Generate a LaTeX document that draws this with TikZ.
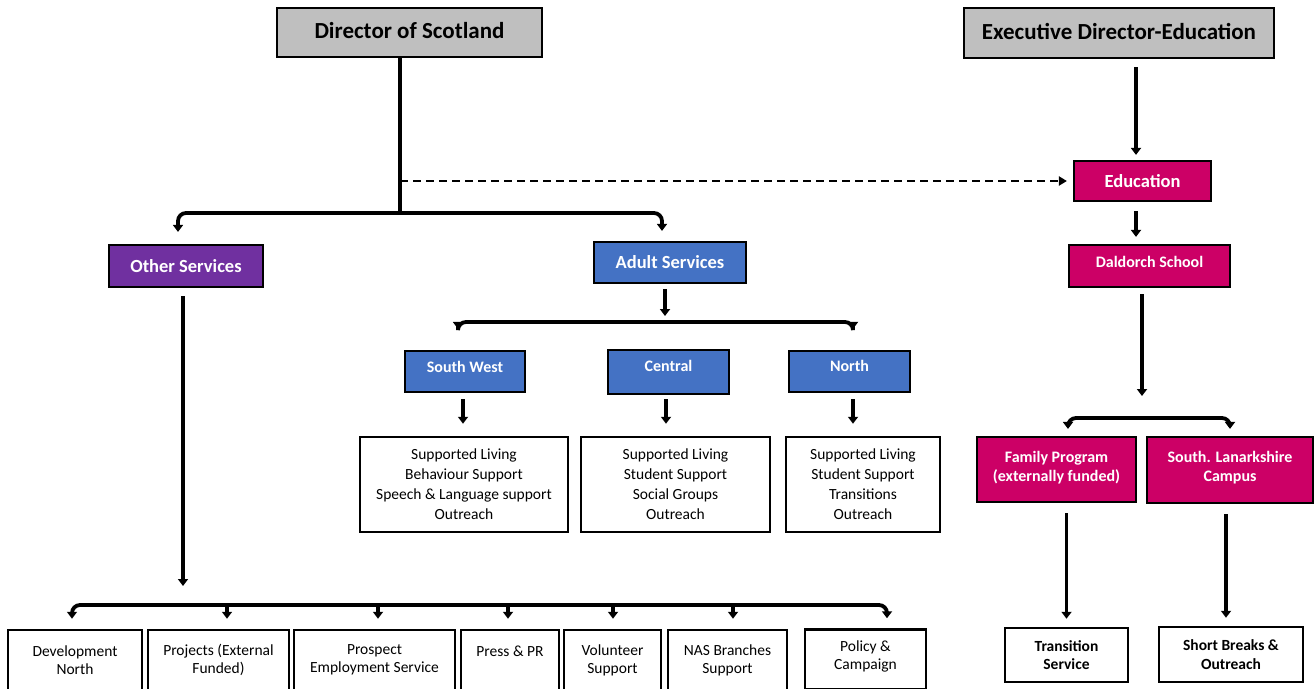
\documentclass[tikz,border=0pt]{standalone}
\usepackage{fontspec}
\setmainfont{Carlito}
\usetikzlibrary{arrows.meta}
\definecolor{hgray}{HTML}{BFBFBF}
\definecolor{npink}{HTML}{CC0066}
\definecolor{npurple}{HTML}{7030A0}
\definecolor{nblue}{HTML}{4472C4}
\tikzset{
  hdr/.style={draw=black, line width=2.6pt, fill=hgray, inner sep=0pt, align=center,
    font=\fontsize{23}{26}\selectfont\bfseries},
  colbox/.style={draw=black, line width=2.2pt, inner sep=0pt, align=center, text=white,
    font=\fontsize{18.5}{22}\selectfont\bfseries},
  smallcol/.style={colbox, font=\fontsize{16}{19}\selectfont\bfseries},
  lst/.style={draw=black, line width=2.5pt, fill=white, inner sep=0pt, align=center,
    font=\fontsize{15.5}{20}\selectfont},
  bot/.style={lst, font=\fontsize{15.5}{18}\selectfont},
  lstb/.style={lst, font=\fontsize{15.5}{18.5}\selectfont\bfseries},
  tip/.style={-{Triangle[width=10pt,length=7pt]}},
  arr/.style={line width=3.5pt, tip},
  ln/.style={line width=3.8pt},
  brk/.style={line width=3.8pt, rounded corners=8pt,
    {Triangle[width=10pt,length=7pt]}-{Triangle[width=10pt,length=7pt]}},
  dsh/.style={line width=2pt, dash pattern=on 8pt off 5pt,
    -{Triangle[width=9pt,length=8pt]}},
}
\begin{document}
\begin{tikzpicture}[x=1pt,y=-1pt]
\useasboundingbox (0,0) rectangle (1316,688);
\clip (0,0) rectangle (1316,688);

% headers
\node[hdr, minimum width=265pt, minimum height=49pt] (dir) at (409.5,32.5) {Director of Scotland\\[-22pt]\mbox{}};
\node[hdr, minimum width=310pt, minimum height=50pt] (exec) at (1119,33) {Executive Director-Education\\[-22pt]\mbox{}};

% education branch
\node[colbox, fill=npink, minimum width=137pt, minimum height=40pt] (edu) at (1142.5,181) {Education};
\node[smallcol, fill=npink, minimum width=161pt, minimum height=42pt] (dal) at (1149.5,266) {Daldorch School\\[-10pt]\mbox{}};
\node[smallcol, fill=npink, minimum width=159pt, minimum height=65pt] (fam) at (1056.5,469.5) {Family Program\\(externally funded)\\[-12pt]\mbox{}};
\node[smallcol, fill=npink, minimum width=166pt, minimum height=66pt] (slc) at (1230,470) {South. Lanarkshire\\Campus\\[-12pt]\mbox{}};
\node[lstb, minimum width=123pt, minimum height=54pt] (trs) at (1066.5,655) {Transition\\Service};
\node[lstb, minimum width=144pt, minimum height=55pt] (sbk) at (1231,654.5) {Short Breaks \&\\Outreach};

% other / adult
\node[colbox, fill=npurple, minimum width=154pt, minimum height=42pt] (oth) at (186,266) {Other Services};
\node[colbox, fill=nblue, minimum width=152pt, minimum height=41pt] (adu) at (670,262.5) {Adult Services};

% regions
\node[smallcol, fill=nblue, minimum width=120pt, minimum height=41pt] (sw) at (465,371.5) {South West\\[-10pt]\mbox{}};
\node[smallcol, fill=nblue, minimum width=121pt, minimum height=44pt] (cen) at (668.5,372) {Central\\[-7pt]\mbox{}};
\node[smallcol, fill=nblue, minimum width=121pt, minimum height=41pt] (nor) at (849.5,371.5) {North\\[-8pt]\mbox{}};

\node[lst, minimum width=208pt, minimum height=95pt] (swl) at (464,484.5) {Supported Living\\Behaviour Support\\Speech \& Language support\\Outreach};
\node[lst, minimum width=189pt, minimum height=95pt] (cenl) at (675.5,484.5) {Supported Living\\Student Support\\Social Groups\\Outreach};
\node[lst, minimum width=154pt, minimum height=95pt] (norl) at (863,484.5) {Supported Living\\Student Support\\Transitions\\Outreach};

% bottom row
\node[bot, minimum width=134pt, minimum height=60pt] (b1) at (75,660) {Development\\North};
\node[bot, minimum width=141pt, minimum height=60pt] (b2) at (218.5,660) {Projects (External\\Funded)};
\node[bot, minimum width=161pt, minimum height=60pt] (b3) at (374.5,660) {Prospect\\Employment Service};
\node[bot, minimum width=98pt, minimum height=60pt] (b4) at (510,660) {Press \& PR\\\mbox{}};
\node[bot, minimum width=97pt, minimum height=60pt] (b5) at (612.5,660) {Volunteer\\Support};
\node[bot, minimum width=119pt, minimum height=60pt] (b6) at (727.5,660) {NAS Branches\\Support};
\node[bot, minimum width=121pt, minimum height=60pt] (b7) at (865.5,659.5) {Policy \&\\Campaign\\[-10pt]\mbox{}};

% hub coordinates
\coordinate (hubA) at (400,213);
\coordinate (dA) at (400,181);
\coordinate (hubB) at (183,605);
\coordinate (hubC) at (1142,418);
\coordinate (hubD) at (665,322);

% connectors
\draw[ln] (dir.south -| hubA) -- (hubA);
\draw[brk, shorten <=12pt, shorten >=10pt] ([xshift=-8pt]oth.north) |- (hubA) -| ([xshift=-8pt]adu.north);
\draw[dsh, shorten >=6pt] (dA) -- (edu.west);

\draw[arr, shorten <=8pt, shorten >=5pt] ([xshift=-6.5pt]edu.north |- exec.south) -- ([xshift=-6.5pt]edu.north);
\draw[arr, shorten <=9pt, shorten >=7pt] ([xshift=-6.5pt]edu.south) -- ([xshift=-6.5pt]edu.south |- dal.north);
\draw[arr, shorten <=6pt, shorten >=22pt] (dal.south -| hubC) -- (hubC);
\draw[brk, shorten <=7pt, shorten >=7pt] ([xshift=11.5pt]fam.north) |- (hubC) -| (slc.north);
\draw[arr, shorten <=10pt, shorten >=8pt] (trs.north |- fam.south) -- (trs.north);
\draw[arr, shorten <=10pt, shorten >=8pt] ([xshift=-5pt]sbk.north |- slc.south) -- ([xshift=-5pt]sbk.north);

\draw[arr, shorten <=8pt, shorten >=19pt] (oth.south -| hubB) -- (hubB);
\draw[brk, shorten <=10pt, shorten >=10pt] ([xshift=-3pt]b1.north) |- (hubB) -| ([xshift=21.5pt]b7.north);
\draw[arr, shorten >=10pt] ([xshift=8.5pt]b2.north |- hubB) -- ([xshift=8.5pt]b2.north);
\draw[arr, shorten >=10pt] ([xshift=3.5pt]b3.north |- hubB) -- ([xshift=3.5pt]b3.north);
\draw[arr, shorten >=10pt] ([xshift=-2pt]b4.north |- hubB) -- ([xshift=-2pt]b4.north);
\draw[arr, shorten >=10pt] ([xshift=0.5pt]b5.north |- hubB) -- ([xshift=0.5pt]b5.north);
\draw[arr, shorten >=10pt] ([xshift=5.5pt]b6.north |- hubB) -- ([xshift=5.5pt]b6.north);

\draw[arr, shorten <=5pt, shorten >=6pt] (adu.south -| hubD) -- (hubD);
\draw[brk, shorten <=21pt, shorten >=21pt] ([xshift=-7pt]sw.north) |- (hubD) -| ([xshift=3.5pt]nor.north);
\draw[arr, shorten <=6pt, shorten >=12pt] ([xshift=-2pt]sw.south) -- ([xshift=-2pt]sw.south |- swl.north);
\draw[arr, shorten <=4pt, shorten >=12pt] ([xshift=-2.5pt]cen.south) -- ([xshift=-2.5pt]cen.south |- cenl.north);
\draw[arr, shorten <=6pt, shorten >=12pt] ([xshift=3.5pt]nor.south) -- ([xshift=3.5pt]nor.south |- norl.north);
\end{tikzpicture}
\end{document}
